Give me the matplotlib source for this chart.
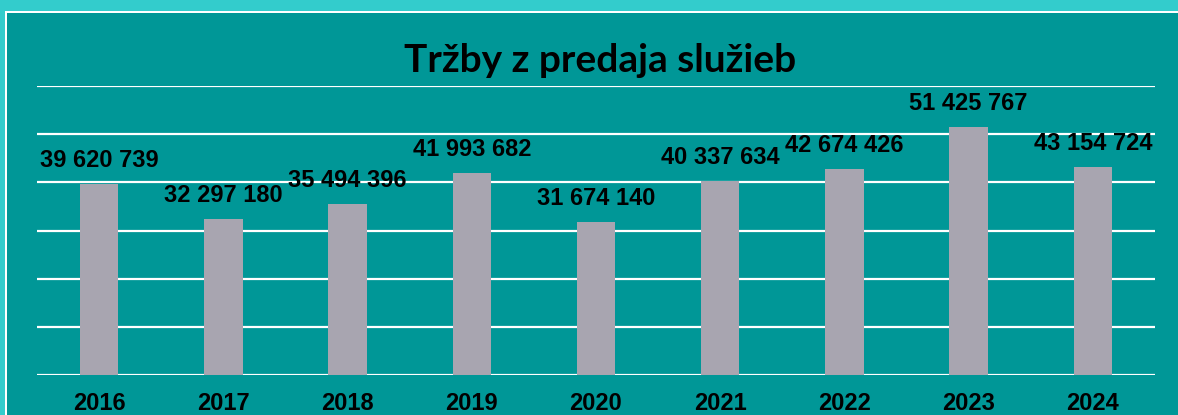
import matplotlib.pyplot as plt
from matplotlib.patches import Rectangle

years = ['2016', '2017', '2018', '2019', '2020', '2021', '2022', '2023', '2024']
revenue = [39620739, 32297180, 35494396, 41993682, 31674140,
           40337634, 42674426, 51425767, 43154724]

teal = '#009797'
cyan = '#33CCCC'
bar_color = '#A8A5B0'

W, H = 1178, 415
fig = plt.figure(figsize=(W / 100, H / 100), dpi=100, facecolor=teal)

# frame: cyan band on top and left, thin white line inside it
fig.patches.append(Rectangle((0, 1 - 11 / H), 1, 11 / H, transform=fig.transFigure,
                             facecolor=cyan, edgecolor='none', zorder=0))
fig.patches.append(Rectangle((0, 0), 5 / W, 1, transform=fig.transFigure,
                             facecolor=cyan, edgecolor='none', zorder=0))
fig.patches.append(Rectangle((5 / W, 1 - 13 / H), 1, 2 / H, transform=fig.transFigure,
                             facecolor='white', edgecolor='none', zorder=1))
fig.patches.append(Rectangle((5 / W, 0), 2 / W, 1 - 11 / H, transform=fig.transFigure,
                             facecolor='white', edgecolor='none', zorder=1))

ax = fig.add_axes([37 / W, 40 / H, (1155 - 37) / W, (375 - 86) / H])
ax.set_facecolor(teal)
x = range(len(years))
ax.bar(x, revenue, width=0.31, color=bar_color, zorder=3)
ax.set_xlim(-0.5, len(years) - 0.5)
ax.set_ylim(0, 60e6)
ax.set_yticks([i * 10e6 for i in range(7)])
ax.yaxis.grid(True, color='white', linewidth=1.6, zorder=0)
ax.set_axisbelow(True)
ax.tick_params(left=False, bottom=False, labelleft=False)
for s in ax.spines.values():
    s.set_visible(False)
ax.set_xticks(list(x))
ax.set_xticklabels(years, fontsize=17, fontweight='bold', family='Liberation Sans')
ax.tick_params(axis='x', pad=9)

for i, v in enumerate(revenue):
    label = f'{v:,}'.replace(',', ' ')
    ax.annotate(label, (i, v), xytext=(0, 12), textcoords='offset pixels',
                ha='center', va='bottom', fontsize=17, fontweight='bold',
                family='Liberation Sans', zorder=5)

fig.text(600 / W, 1 - 60 / H, 'Tržby z predaja služieb', ha='center', va='center',
         fontsize=28, fontweight='bold', family='Lato')

fig.savefig('out.png', dpi=100, facecolor=teal)
